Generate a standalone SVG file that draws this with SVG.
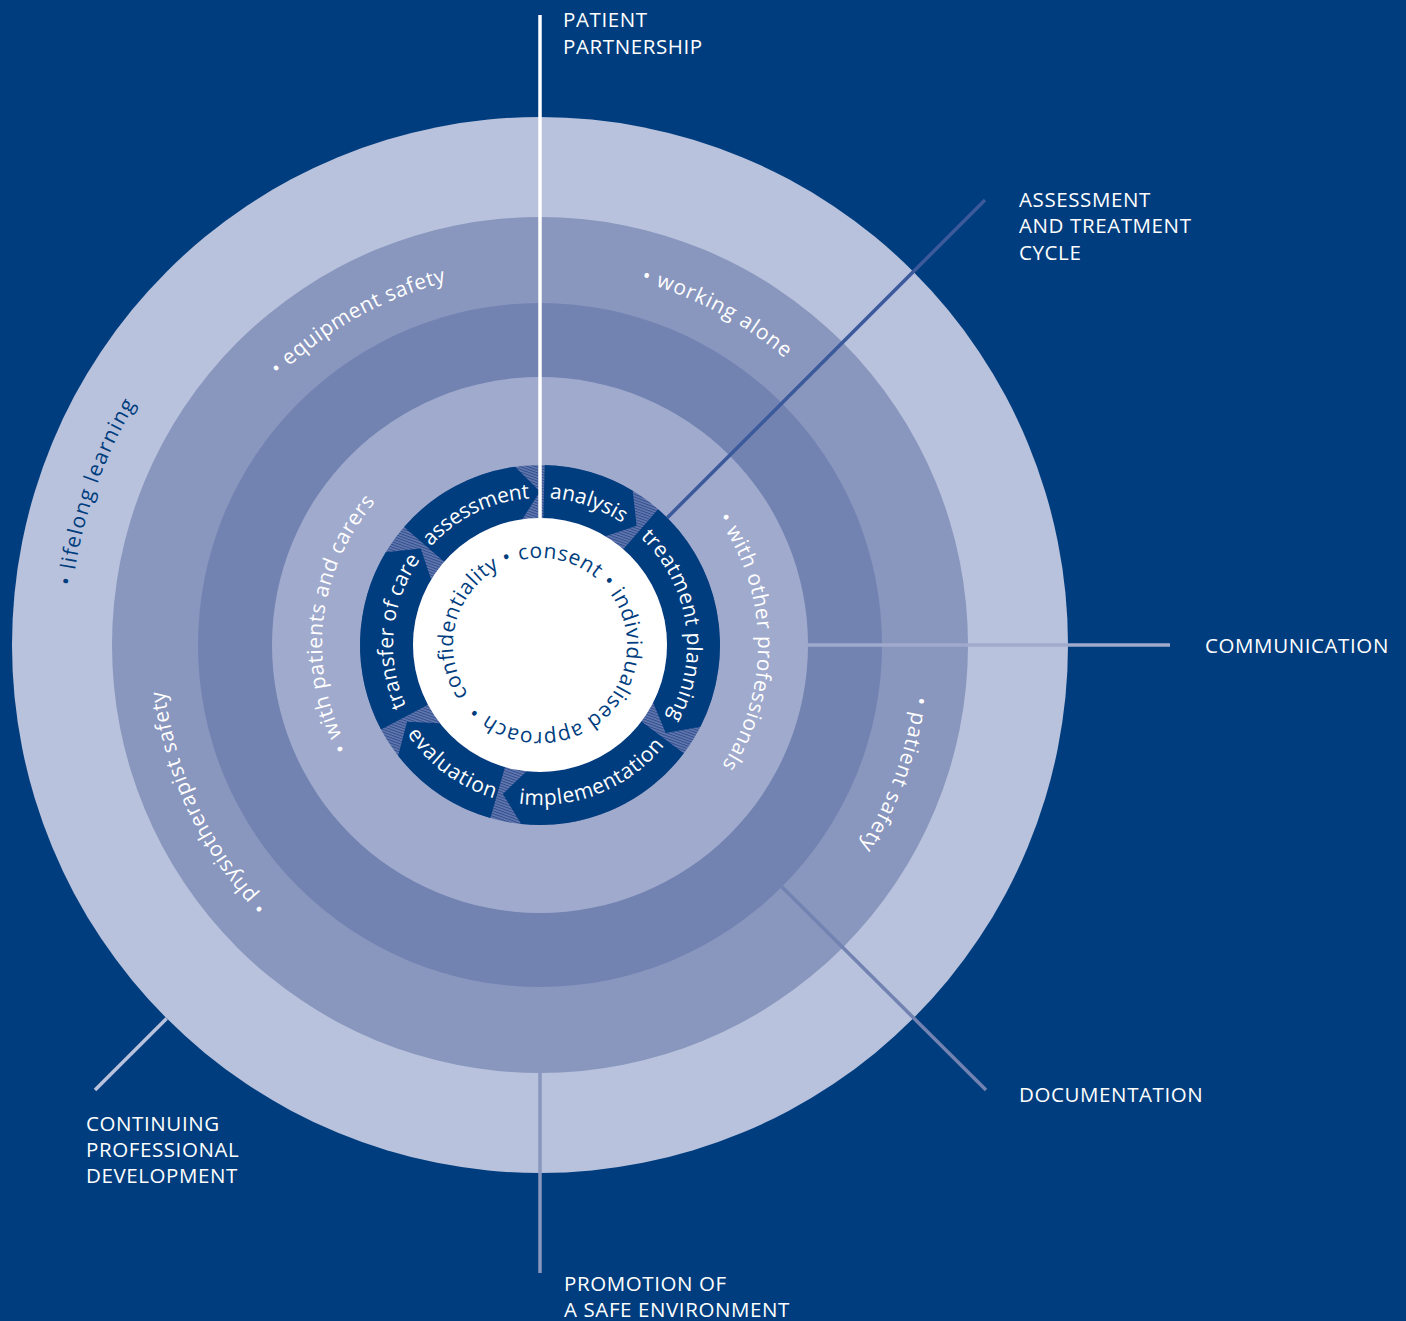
<svg xmlns="http://www.w3.org/2000/svg" width="1406" height="1321" viewBox="0 0 1406 1321">
<style>
.lbl{font-family:"Open Sans","Noto Sans","Liberation Sans",sans-serif;font-size:20.5px;fill:#ffffff;letter-spacing:0.6px}
.arc{font-family:"Open Sans","Noto Sans","Liberation Sans",sans-serif;font-size:21px;fill:#ffffff}
.dark{fill:#003d7e}
.seg{fill:#003d7e}
.conn{fill:none;stroke-width:3.5}
</style>
<defs>
<pattern id="hatch" width="2.6" height="2.6" patternUnits="userSpaceOnUse" patternTransform="rotate(20)">
<rect width="2.6" height="2.6" fill="#6879b0"/><rect width="2.6" height="1.1" fill="#2c4f8e"/>
</pattern>
<path id="pLife" d="M72.72 585.97 A471 471 0 0 1 154.18 374.84"/>
<path id="pEquip" d="M278.56 376.16 A375 375 0 0 1 474.88 275.70"/>
<path id="pWork" d="M640.75 281.71 A377 377 0 0 1 806.58 378.42"/>
<path id="pOther" d="M717.48 518.41 A218 218 0 0 1 707.0 785.13"/>
<path id="pPat" d="M914.50 696.30 A378 378 0 0 1 837.87 877.72"/>
<path id="pPhys" d="M267.17 906.63 A378 378 0 0 1 162.23 658.19"/>
<path id="pCarers" d="M348.42 749.02 A218 218 0 0 1 394.13 483.0"/>
<path id="pAss" d="M430.76 546.64 A147 147 0 0 1 540 498"/>
<path id="pAna" d="M549.49 498.31 A147 147 0 0 1 634.49 532.39"/>
<path id="pTreat" d="M640.25 537.49 A147 147 0 0 1 660.42 729.32"/>
<path id="pImpl" d="M518.56 803.56 A160 160 0 0 0 675.69 729.79"/>
<path id="pEval" d="M407.04 734.01 A160 160 0 0 0 512.22 802.57"/>
<path id="pTrans" d="M406.24 705.96 A147 147 0 0 1 427.39 550.51"/>
<path id="pInner" d="M468.30 694.28 A87 87 0 1 1 611.70 595.72 A87 87 0 1 1 468.30 694.28"/>
</defs>
<rect width="1406" height="1321" fill="#003d7e"/>
<g id="rings">
<circle id="ring-outer" cx="540" cy="645" r="528" fill="#b9c2dc"/>
<circle id="ring-second" cx="540" cy="645" r="428" fill="#8996be"/>
<circle id="ring-third" cx="540" cy="645" r="342" fill="#7283b2"/>
<circle id="ring-fourth" cx="540" cy="645" r="268" fill="#a0aacd"/>
<circle id="ring-cycle" cx="540" cy="645" r="180" fill="url(#hatch)"/>
</g>
<g id="cycle">
<g id="seg-assessment"><path class="seg" d="M404.15 526.90 A180 180 0 0 1 514.94 466.75 L540 491.5 L522.32 519.23 A127 127 0 0 0 444.15 561.68 Z"/>
<text class="arc"><textPath href="#pAss" textLength="112.9" lengthAdjust="spacing">assessment</textPath></text></g>
<g id="seg-analysis"><path class="seg" d="M544.71 465.06 A180 180 0 0 1 632.70 490.70 L636.60 525.72 L605.41 536.14 A127 127 0 0 0 543.32 518.04 Z"/>
<text class="arc"><textPath href="#pAna" textLength="77.7" lengthAdjust="spacing">analysis</textPath></text></g>
<g id="seg-treatment"><path class="seg" d="M658.10 509.15 A180 180 0 0 1 700.38 726.72 L665.75 733.05 L653.16 702.66 A127 127 0 0 0 623.32 549.15 Z"/>
<text class="arc"><textPath href="#pTreat" textLength="196.3" lengthAdjust="spacing">treatment planning</textPath></text></g>
<g id="seg-implementation"><path class="seg" d="M683.75 753.32 A180 180 0 0 1 521.19 824.01 L502.87 793.94 L526.73 771.30 A127 127 0 0 0 641.42 721.43 Z"/>
<text class="arc"><textPath href="#pImpl" textLength="163.9" lengthAdjust="spacing">implementation</textPath></text></g>
<g id="seg-evaluation"><path class="seg" d="M490.39 818.03 A180 180 0 0 1 398.16 755.83 L407.07 721.75 L439.92 723.19 A127 127 0 0 0 505.00 767.09 Z"/>
<text class="arc"><textPath href="#pEval" textLength="110.3" lengthAdjust="spacing">evaluation</textPath></text></g>
<g id="seg-transfer"><path class="seg" d="M381.08 729.51 A180 180 0 0 1 385.70 552.30 L420.72 548.40 L431.14 579.59 A127 127 0 0 0 427.87 704.63 Z"/>
<text class="arc"><textPath href="#pTrans" textLength="153.9" lengthAdjust="spacing">transfer of care</textPath></text></g>
</g>
<g id="core">
<circle cx="540" cy="645" r="127" fill="#ffffff"/>
<text class="arc dark"><textPath href="#pInner" textLength="532" lengthAdjust="spacing">confidentiality • consent • individualised approach •</textPath></text>
</g>
<g id="ring-texts">
<text id="t-lifelong" class="arc dark"><textPath href="#pLife" textLength="194" lengthAdjust="spacing">• lifelong learning</textPath></text>
<text id="t-equipment" class="arc"><textPath href="#pEquip" textLength="194.4" lengthAdjust="spacing">• equipment safety</textPath></text>
<text id="t-working" class="arc"><textPath href="#pWork" textLength="164.5" lengthAdjust="spacing">• working alone</textPath></text>
<text id="t-other" class="arc"><textPath href="#pOther" textLength="262.5" lengthAdjust="spacing">• with other professionals</textPath></text>
<text id="t-patient" class="arc"><textPath href="#pPat" textLength="161" lengthAdjust="spacing">• patient safety</textPath></text>
<text id="t-physio" class="arc"><textPath href="#pPhys" textLength="242.8" lengthAdjust="spacing">• physiotherapist safety</textPath></text>
<text id="t-carers" class="arc"><textPath href="#pCarers" textLength="264.4" lengthAdjust="spacing">• with patients and carers</textPath></text>
</g>
<g id="connectors">
<line class="conn" x1="540" y1="15" x2="540" y2="518" stroke="#ffffff"/>
<line class="conn" x1="667.3" y1="517.7" x2="985" y2="200" stroke="#3c5a9b"/>
<line class="conn" x1="808" y1="645" x2="1170" y2="645" stroke="#a0aacd"/>
<line class="conn" x1="781.8" y1="886.8" x2="986" y2="1090" stroke="#7283b2"/>
<line class="conn" x1="540" y1="1073" x2="540" y2="1273" stroke="#8996be"/>
<line class="conn" x1="166.6" y1="1018.4" x2="95" y2="1090" stroke="#b9c2dc"/>
</g>
<g id="labels">
<g id="lbl-patient"><text class="lbl" x="563" y="27">PATIENT</text><text class="lbl" x="563" y="54">PARTNERSHIP</text></g>
<g id="lbl-assessment"><text class="lbl" x="1019" y="207">ASSESSMENT</text><text class="lbl" x="1019" y="233">AND TREATMENT</text><text class="lbl" x="1019" y="260">CYCLE</text></g>
<g id="lbl-communication"><text class="lbl" x="1205" y="653">COMMUNICATION</text></g>
<g id="lbl-documentation"><text class="lbl" x="1019" y="1102">DOCUMENTATION</text></g>
<g id="lbl-promotion"><text class="lbl" x="564" y="1291">PROMOTION OF</text><text class="lbl" x="564" y="1317">A SAFE ENVIRONMENT</text></g>
<g id="lbl-cpd"><text class="lbl" x="86" y="1131">CONTINUING</text><text class="lbl" x="86" y="1157">PROFESSIONAL</text><text class="lbl" x="86" y="1183">DEVELOPMENT</text></g>
</g>
</svg>
